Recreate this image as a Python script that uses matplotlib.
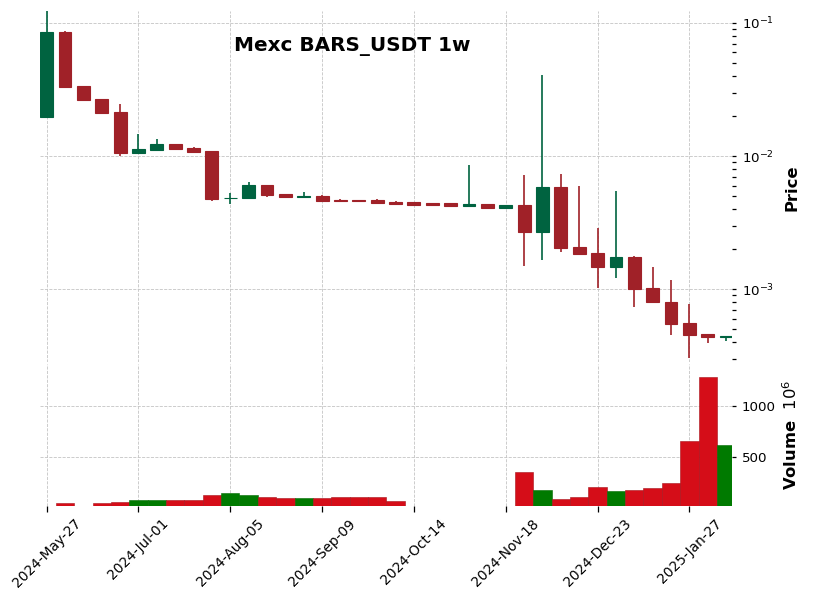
import matplotlib
matplotlib.use('Agg')
import matplotlib.pyplot as plt
import numpy as np
import pandas as pd
from matplotlib.ticker import LogLocator, NullFormatter, MultipleLocator, FixedLocator, FixedFormatter

# ---- data (weekly candles, Mexc BARS_USDT) ----
weeks = pd.date_range('2024-05-27', periods=38, freq='7D')

opens = [0.0196, 0.0855, 0.0336, 0.0268, 0.0214, 0.0105, 0.0111, 0.0123, 0.01148, 0.0109,
         0.00480, 0.00483, 0.00605, 0.00518, 0.00492, 0.00500, 0.00469, 0.00468, 0.00469, 0.00454,
         0.00448, 0.00441, 0.00440, 0.00421, 0.00434, 0.00408, 0.00428, 0.00268, 0.00585, 0.00207,
         0.00187, 0.00146, 0.00174, 0.00102, 0.000800, 0.000558, 0.000461, 0.000437]
highs = [0.123, 0.0865, 0.0338, 0.0269, 0.0246, 0.0146, 0.0134, 0.0124, 0.0116, 0.0110,
         0.00527, 0.00638, 0.00608, 0.00520, 0.00533, 0.00505, 0.00472, 0.00470, 0.00475, 0.00456,
         0.00450, 0.00442, 0.00445, 0.00851, 0.00436, 0.00430, 0.00716, 0.0405, 0.00728, 0.00591,
         0.00286, 0.00543, 0.00178, 0.00146, 0.00116, 0.000767, 0.000463, 0.000447]
lows = [0.0195, 0.0325, 0.0260, 0.0209, 0.0100, 0.0104, 0.0110, 0.0111, 0.0106, 0.00459,
        0.00435, 0.00480, 0.00490, 0.00488, 0.00490, 0.00457, 0.00459, 0.00457, 0.00442, 0.00434,
        0.00428, 0.00426, 0.00419, 0.00419, 0.00404, 0.00406, 0.00148, 0.00164, 0.00189, 0.00182,
        0.00101, 0.00122, 0.000736, 0.000795, 0.000449, 0.000301, 0.000391, 0.000410]
closes = [0.0855, 0.0332, 0.0264, 0.0211, 0.01053, 0.0113, 0.0123, 0.0113, 0.0107, 0.00475,
          0.00487, 0.00605, 0.00510, 0.00492, 0.00504, 0.00459, 0.00462, 0.00459, 0.00443, 0.00436,
          0.00430, 0.00428, 0.00421, 0.00434, 0.00406, 0.00428, 0.00268, 0.00585, 0.00203, 0.00183,
          0.00146, 0.00174, 0.00100, 0.000798, 0.000546, 0.000451, 0.000436, 0.000445]
volumes_m = [0, 40, 0, 40, 50, 75, 75, 75, 75, 125,
             143, 125, 103, 95, 95, 95, 103, 103, 103, 65,
             0, 0, 0, 0, 0, 0, 350, 173, 85, 105,
             203, 164, 173, 193, 242, 654, 1284, 615]

title = 'Mexc BARS_USDT 1w'

# ---- style ----
up_c, dn_c = '#006340', '#a02128'
vup_c, vdn_c = '#007a00', '#d50d18'
grid_kw = dict(color='#c4c4c4', linestyle='--', linewidth=0.6)

W, H = 813, 600
fig = plt.figure(figsize=(W / 100, H / 100), dpi=100)
left, right = 40 / W, 732 / W
ax = fig.add_axes([left, 1 - 362 / H, right - left, (362 - 11) / H])
axv = fig.add_axes([left, 1 - 506 / H, right - left, (506 - 364) / H], sharex=ax)

x = np.arange(len(opens))
o = np.array(opens); c = np.array(closes); h = np.array(highs); l = np.array(lows)
up = c >= o
cols = np.where(up, up_c, dn_c)

ax.set_yscale('log')
ax.vlines(x, l, h, colors=cols, linewidth=1.2, zorder=2)
bottoms = np.minimum(o, c)
heights = np.abs(c - o)
ax.bar(x, heights, bottom=bottoms, width=0.7, color=cols, edgecolor=cols,
       linewidth=0.8, zorder=3)

ax.set_ylim(2.83e-4, 0.123)
ax.set_xlim(-0.36, len(opens) - 1 + 0.32)

vcols = np.where(up, vup_c, vdn_c)
vedge = np.where(up, '#006a00', '#a8121a')
axv.bar(x, volumes_m, width=1.0, color=vcols, edgecolor=vedge, linewidth=0.4, zorder=3)
vpos = [v for v in volumes_m if v > 0]
axv.set_ylim(0.3 * min(vpos), 1.1 * max(volumes_m))
axv.yaxis.set_major_locator(MultipleLocator(500))

for a in (ax, axv):
    for s in a.spines.values():
        s.set_visible(False)
    a.yaxis.tick_right()
    a.grid(True, which='major', **grid_kw)
    a.set_axisbelow(True)
    a.tick_params(axis='y', which='both', direction='out', length=3, width=0.9,
                  labelsize=9.6, pad=4)

ax.yaxis.set_major_locator(LogLocator(base=10))
ax.yaxis.set_minor_locator(LogLocator(base=10, subs=np.arange(2, 10)))
ax.yaxis.set_minor_formatter(NullFormatter())
ax.tick_params(axis='x', which='both', bottom=False, labelbottom=False)

tick_idx = list(range(0, len(opens), 5))
tick_labels = [weeks[i].strftime('%Y-%b-%d') for i in tick_idx]
axv.xaxis.set_major_locator(FixedLocator(tick_idx))
axv.xaxis.set_major_formatter(FixedFormatter(tick_labels))
axv.tick_params(axis='x', direction='out', length=4, width=0.9, labelsize=9.9)
plt.setp(axv.get_xticklabels(), rotation=45, ha='center')

fig.text(352 / W, 1 - 46.5 / H, title, ha='center', va='center',
         fontsize=14.4, fontweight='bold')
fig.text(792 / W, 1 - 188 / H, 'Price', rotation=90, ha='center', va='center',
         fontsize=11.8, fontweight='bold')
fig.text(791 / W, 1 - 435 / H, 'Volume  $10^{6}$', rotation=90, ha='center', va='center',
         fontsize=11.8, fontweight='bold')

fig.savefig('out.png', dpi=100)
